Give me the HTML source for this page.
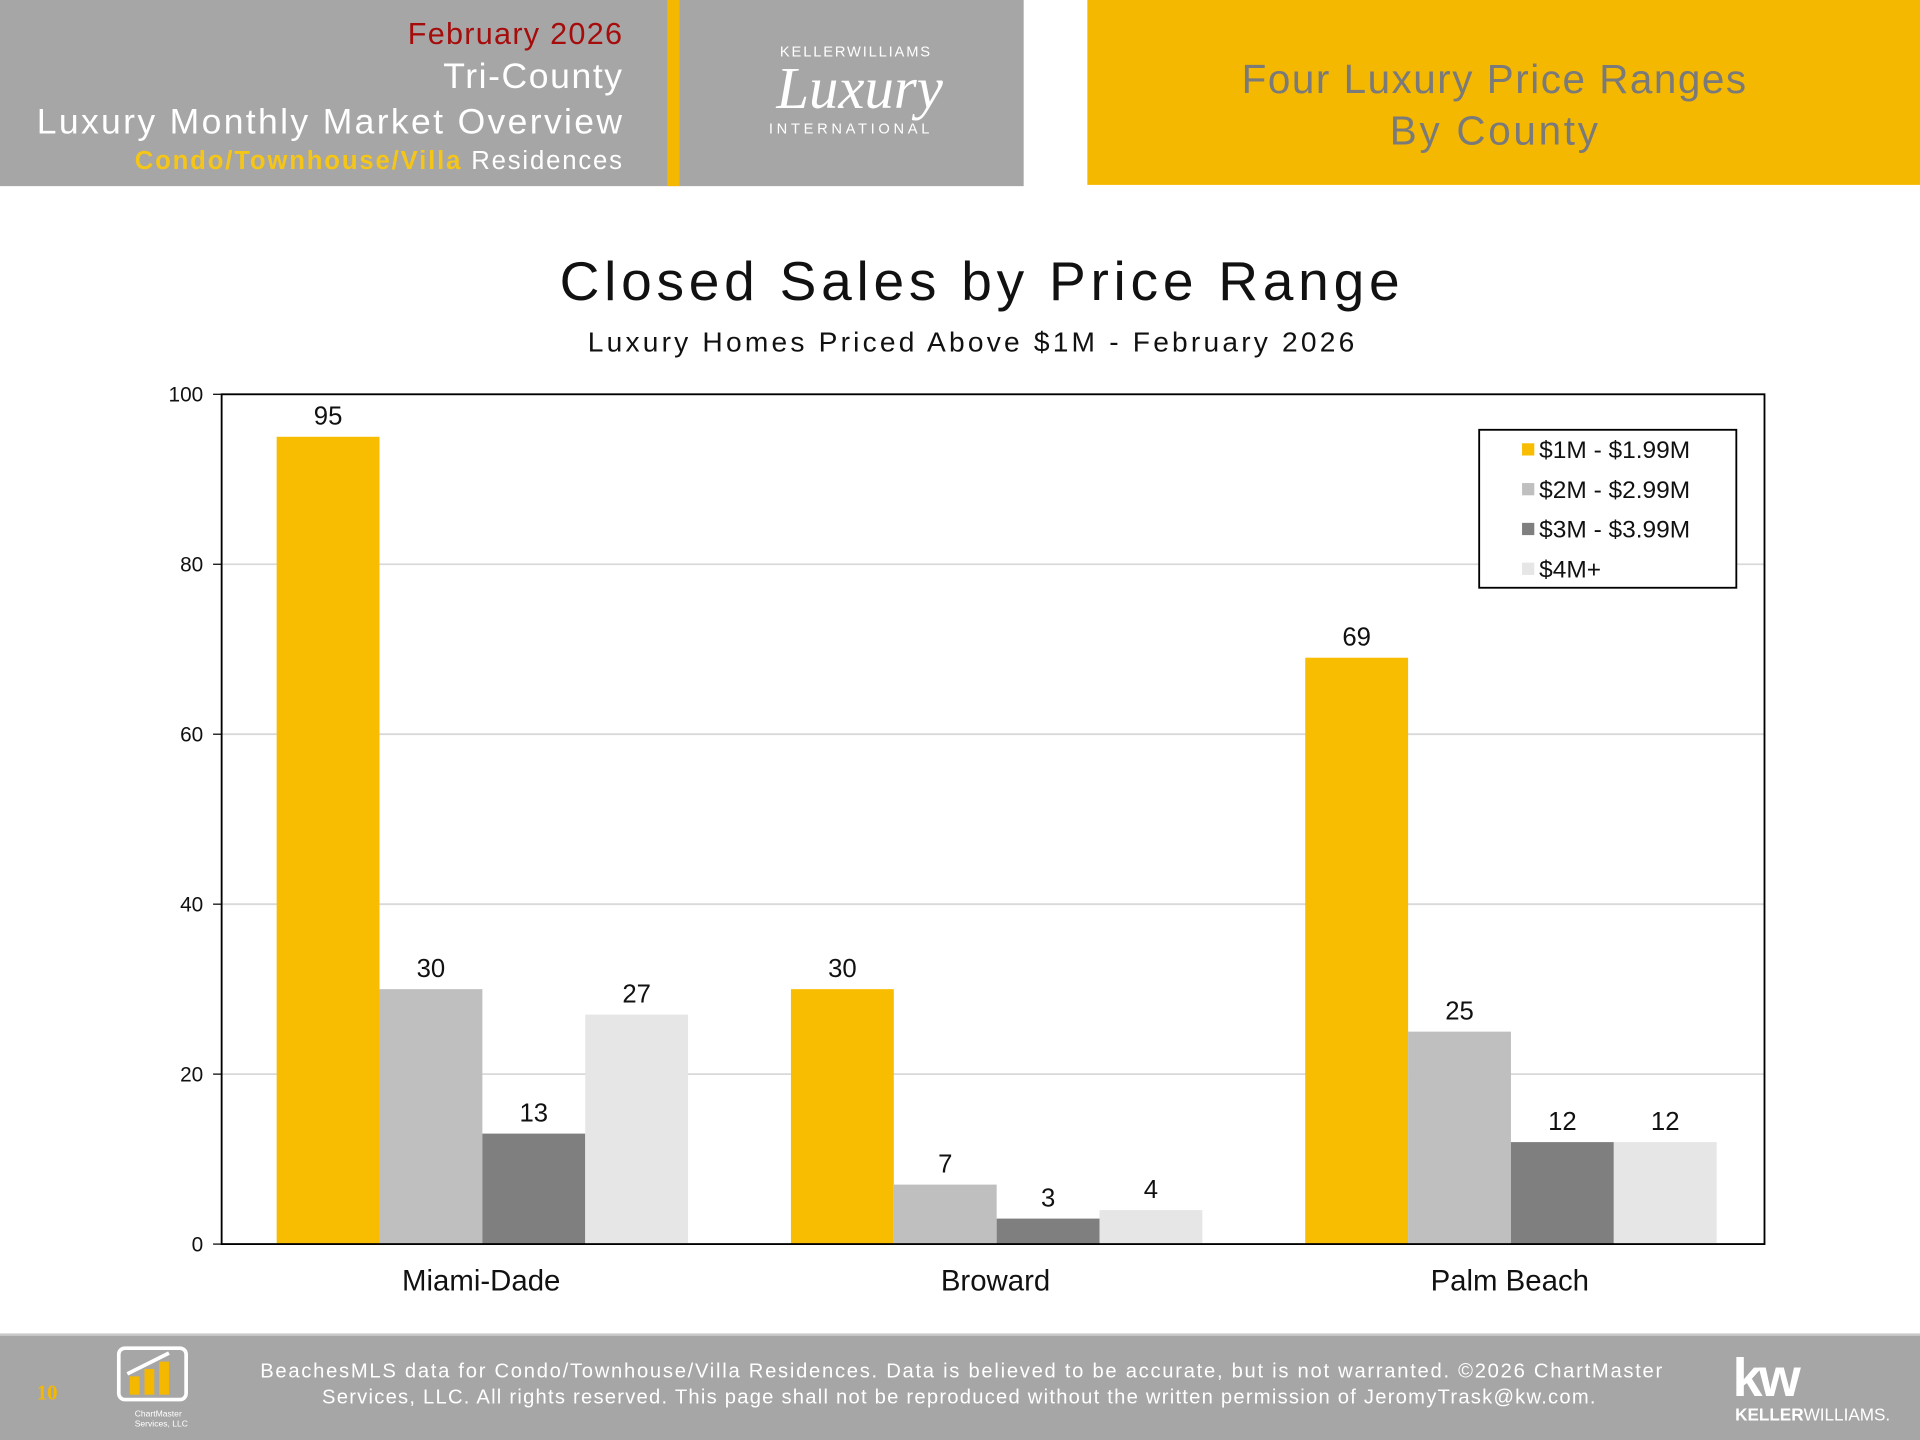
<!DOCTYPE html>
<html><head><meta charset="utf-8"><style>
html,body{margin:0;padding:0;background:#fff;}
svg{display:block;font-family:"Liberation Sans",sans-serif;}
</style></head><body>
<svg id="page" width="1920" height="1440" viewBox="0 0 1568 1176" xmlns="http://www.w3.org/2000/svg">
<g>
<rect x="0" y="0" width="836" height="152" fill="#a6a6a6"/>
<rect x="545" y="0" width="10" height="152" fill="#f5b800"/>
<text x="508" y="36" text-anchor="end" font-size="25" fill="#a50d0d" textLength="175">February 2026</text>
<text x="508" y="72" text-anchor="end" font-size="29" fill="#fff" textLength="146">Tri-County</text>
<text x="508" y="109" text-anchor="end" font-size="29" fill="#fff" textLength="478">Luxury Monthly Market Overview</text>
<text x="508" y="138" text-anchor="end" font-size="21" fill="#fff" textLength="398"><tspan fill="#f5c518" font-weight="bold">Condo/Townhouse/Villa</tspan> Residences</text>
<g>
<text x="699" y="46" text-anchor="middle" font-size="12" fill="#fff" letter-spacing="1.5">KELLERWILLIAMS</text>
<text x="702" y="88" text-anchor="middle" font-size="48" font-family="Liberation Serif,serif" font-style="italic" fill="#fff">Luxury</text>
<text x="695" y="109" text-anchor="middle" font-size="12" fill="#fff" letter-spacing="3">INTERNATIONAL</text>
</g>
<rect x="888" y="0" width="680" height="151" fill="#f5b800"/>
<text x="1220" y="76" text-anchor="middle" font-size="33" fill="#7a7a7a" textLength="412">Four Luxury Price Ranges</text>
<text x="1220" y="118" text-anchor="middle" font-size="33" fill="#7a7a7a" textLength="170">By County</text>
</g>
<text x="800" y="245" text-anchor="middle" font-size="45" fill="#111" textLength="686">Closed Sales by Price Range</text>
<text x="793" y="287" text-anchor="middle" font-size="23" fill="#111" textLength="626">Luxury Homes Priced Above $1M - February 2026</text>
<g id="chart"></g>
<g>
<rect x="1208" y="351" width="210" height="129" fill="#fff" stroke="#000" stroke-width="1.5"/>
<g id="legend-items"></g>
</g>
<g>
<rect x="0" y="1089" width="1568" height="87" fill="#a6a6a6"/>
<rect x="0" y="1089" width="1568" height="2" fill="#c8c8c8"/>
<text x="30" y="1143" font-size="17" font-family="Liberation Serif,serif" font-weight="bold" fill="#f5b800">10</text>
<g>
<rect x="97" y="1101" width="55" height="42" rx="5" fill="none" stroke="#fff" stroke-width="3"/>
<rect x="106" y="1124" width="8" height="15" fill="#f5b800"/><rect x="118" y="1118" width="8" height="21" fill="#f5b800"/><rect x="130" y="1112" width="8" height="27" fill="#f5b800"/>
<path d="M104 1122 L138 1105" stroke="#fff" stroke-width="3"/>
<text x="110" y="1157" font-size="7" fill="#fff">ChartMaster</text>
<text x="110" y="1165" font-size="7" fill="#fff">Services, LLC</text>
</g>
<text x="785" y="1125" text-anchor="middle" font-size="16.5" fill="#fff" textLength="1145">BeachesMLS data for Condo/Townhouse/Villa Residences.  Data is believed to be accurate, but is not warranted.  ©2026  ChartMaster</text>
<text x="783" y="1146" text-anchor="middle" font-size="16.5" fill="#fff" textLength="1040">Services, LLC.  All rights reserved. This page shall not be reproduced without the written permission of JeromyTrask@kw.com.</text>
<text x="1415" y="1140" font-size="44" font-weight="bold" fill="#fff" letter-spacing="-3">kw</text>
<text x="1417" y="1160" font-size="14" fill="#fff"><tspan font-weight="bold">KELLER</tspan>WILLIAMS.</text>
</g>
</svg>
<script>
const categories = ["Miami-Dade", "Broward", "Palm Beach"];
const seriesNames = ["$1M - $1.99M", "$2M - $2.99M", "$3M - $3.99M", "$4M+"];
const series1 = [95, 30, 69];
const series2 = [30, 7, 25];
const series3 = [13, 3, 12];
const series4 = [27, 4, 12];
const yTicks = [0, 20, 40, 60, 80, 100];
const colors = ["#f8bd00", "#bfbfbf", "#7f7f7f", "#e6e6e6"];

const NS = "http://www.w3.org/2000/svg";
const PL = 181, PR = 1441, PT = 322, PB = 1016, YMAX = 100;
const allSeries = [series1, series2, series3, series4];
function y(v){ return PB - (v / YMAX) * (PB - PT); }
const groupW = (PR - PL) / categories.length;
const barW = groupW * 0.2;
function xBar(ci, si){ return PL + ci * groupW + groupW * 0.107 + si * barW; }
function mk(tag, attrs, parent){ const e = document.createElementNS(NS, tag); for (const k in attrs) e.setAttribute(k, attrs[k]); parent.appendChild(e); return e; }
const chart = document.getElementById("chart");
yTicks.forEach(t => {
  const gl = mk("line", {x1: PL, x2: PR, y1: y(t), y2: y(t), stroke: "#d9d9d9", "stroke-width": 1.5}, chart);
  
  
  const tk = mk("line", {x1: PL - 7, x2: PL, y1: y(t), y2: y(t), stroke: "#000", "stroke-width": 1}, chart);
  
  
  const lb = mk("text", {x: 166, y: y(t) + 6, "text-anchor": "end", "font-size": 17, fill: "#111"}, chart);
  lb.textContent = t;
  
  
});
categories.forEach((c, ci) => {
  allSeries.forEach((s, si) => {
    const v = s[ci];
    const r = mk("rect", {x: xBar(ci, si), y: y(v), width: barW, height: PB - y(v), fill: colors[si]}, chart);
    
    
    const vl = mk("text", {x: xBar(ci, si) + barW / 2, y: y(v) - 10, "text-anchor": "middle", "font-size": 21, fill: "#111"}, chart);
    vl.textContent = v;
    
    
  });
  const cl = mk("text", {x: PL + ci * groupW + groupW / 2 + 2, y: 1054, "text-anchor": "middle", "font-size": 24, fill: "#111"}, chart);
  cl.textContent = c;
  
  
});
const frame = mk("rect", {x: PL, y: PT, width: PR - PL, height: PB - PT, fill: "none", stroke: "#000", "stroke-width": 1.5}, chart);


const leg = document.getElementById("legend-items");
seriesNames.forEach((n, i) => {
  const ly = 367 + i * 32.5;
  const sw = mk("rect", {x: 1243, y: ly - 5, width: 10, height: 10, fill: colors[i]}, leg);
  
  
  const t = mk("text", {x: 1257, y: ly + 7, "font-size": 20, fill: "#111"}, leg);
  t.textContent = n;
  
  
});
</script>
</body></html>
